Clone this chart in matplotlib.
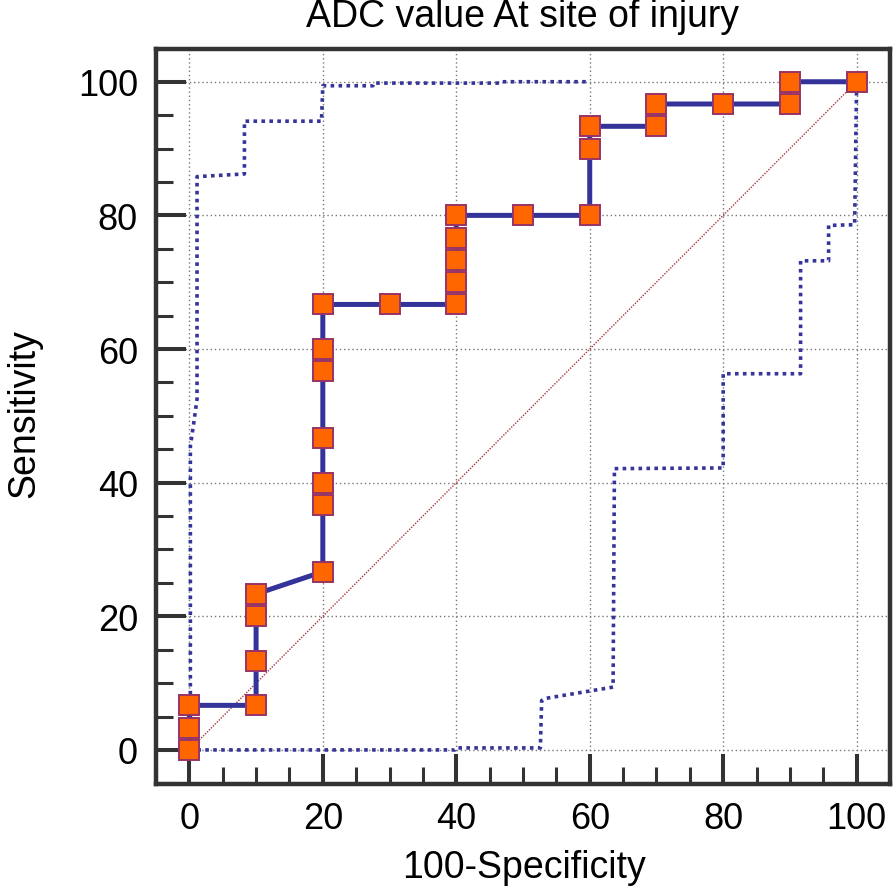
import numpy as np
import matplotlib
matplotlib.use("Agg")
import matplotlib.pyplot as plt
from matplotlib.ticker import MultipleLocator

plt.rcParams['font.family'] = ['Liberation Sans', 'DejaVu Sans']

# ROC curve points (100-Specificity, Sensitivity)
fpr = [0, 0, 0, 10, 10, 10, 10, 20, 20, 20, 20, 20, 20, 20, 30, 40, 40, 40, 40, 40,
       50, 60, 60, 60, 70, 70, 80, 90, 90, 100]
tpr = [0, 3.33, 6.67, 6.67, 13.33, 20, 23.33, 26.67, 36.67, 40, 46.67, 56.67, 60, 66.67,
       66.67, 66.67, 70, 73.33, 76.67, 80, 80, 80, 90, 93.33, 93.33, 96.67, 96.67, 96.67,
       100, 100]

# upper confidence band
upper_x = [0, 0.15, 0.15, 0.6, 1.15, 1.15, 8.25, 8.25, 19.8, 20.0, 27.5, 27.6, 46.5, 46.7, 60]
upper_y = [0, 0.5, 45.5, 48.5, 52.5, 85.8, 86.2, 94.1, 94.1, 99.4, 99.4, 99.8, 99.8, 100, 100]

# lower confidence band
lower_x = [0, 39.8, 40.0, 52.6, 52.8, 53.3, 63.5, 63.7, 80.0, 80.0, 91.6, 91.6, 95.8, 95.8,
           99.7, 100]
lower_y = [0, 0, 0.3, 0.3, 7.4, 7.7, 9.4, 42.1, 42.2, 56.3, 56.3, 73.2, 73.2, 78.5,
           78.6, 100]

title = "ADC value At site of injury"
xlabel = "100-Specificity"
ylabel = "Sensitivity"

fig = plt.figure(figsize=(8.96, 8.95), dpi=100)
ax = fig.add_axes([156 / 896, 1 - 785 / 895, (890 - 156) / 896, (785 - 50) / 895])

ax.set_xlim(-5, 105)
ax.set_ylim(-5.1, 104.9)

ax.xaxis.set_major_locator(MultipleLocator(20))
ax.xaxis.set_minor_locator(MultipleLocator(5))
ax.yaxis.set_major_locator(MultipleLocator(20))
ax.yaxis.set_minor_locator(MultipleLocator(5))

ax.grid(True, which='major', color='#777777', linestyle=(0, (1, 2)), linewidth=1.0)
ax.set_axisbelow(True)

# reference diagonal
ax.plot([0, 100], [0, 100], color='#a33a3a', linestyle=(0, (1, 1)), linewidth=1.0, zorder=2)

# confidence bands
ax.plot(upper_x, upper_y, color='#34349a', linestyle=(0, (1, 1.2)), linewidth=2.6, zorder=2)
ax.plot(lower_x, lower_y, color='#34349a', linestyle=(0, (1, 1.2)), linewidth=2.6, zorder=2)

# ROC curve
ax.plot(fpr, tpr, color='#333399', linewidth=3.6, marker='s', markersize=14,
        markerfacecolor='#ff6600', markeredgecolor='#993366', markeredgewidth=1.4,
        zorder=3, clip_on=False)

for s in ax.spines.values():
    s.set_linewidth(3.2)
    s.set_color('#333333')

ax.tick_params(which='major', direction='in', length=21.5, width=2.9, color='#333333',
               labelsize=26, top=False, right=False)
ax.tick_params(axis='y', which='major', pad=13)
ax.tick_params(axis='x', which='major', pad=12)
ax.tick_params(which='minor', direction='in', length=12.5, width=2.2, color='#333333',
               top=False, right=False)

fig.text(522 / 896, 1 - 27 / 895, title, ha='center', va='baseline', fontsize=27)
fig.text(524 / 896, 1 - 878 / 895, xlabel, ha='center', va='baseline', fontsize=27)
fig.text(24 / 896, 1 - 414 / 895, ylabel, ha='center', va='center', rotation=90, fontsize=27)

fig.savefig("out.png", dpi=100)
